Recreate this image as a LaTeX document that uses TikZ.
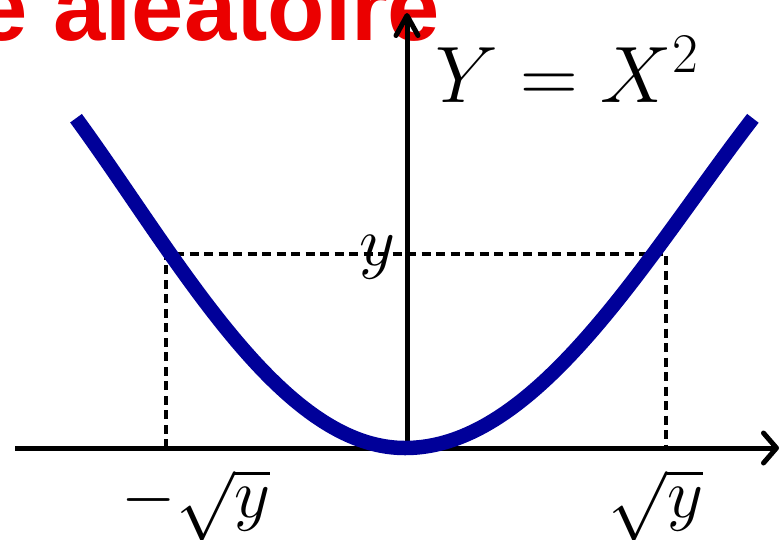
\RequirePackage{fix-cm}
\documentclass[tikz,border=0pt]{standalone}
\usepackage{fontspec}
\newfontfamily\titlefont{Liberation Sans}
\usetikzlibrary{arrows.meta}
\definecolor{curveblue}{RGB}{0,0,153}
\definecolor{titlered}{RGB}{235,0,0}
\begin{document}
\begin{tikzpicture}[x=1pt,y=-1pt,
  axis/.style={line width=5pt},
  guide/.style={line width=3.3pt, dash pattern=on 9pt off 5.5pt},
  curve/.style={line width=14.5pt, draw=curveblue},
  titletext/.style={anchor=base west, inner sep=0pt, font=\titlefont\bfseries\fontsize{94}{94}\selectfont},
  lbl/.style={inner sep=0pt, anchor=base, font=\fontsize{70}{70}\selectfont}]
\useasboundingbox (0,0) rectangle (781,539);
\clip (0,0) rectangle (781,539);
% title (cut off at the top)
\node[titletext, text=titlered] (title) at (-25,40) {e aléatoire};
% dashed guides
\coordinate (bl) at (166,448);
\coordinate (dl) at (166,254);
\coordinate (dr) at (666,254);
\coordinate (br) at (666,448);
\draw[guide] (bl) -- (dl) -- (dr) -- (br);
% axes
\coordinate (xs) at (15,448);
\coordinate (xe) at (779,448);
\coordinate (ys) at (407,448);
\coordinate (ye) at (407,13);
\draw[axis, -{Straight Barb[length=13pt,width=30pt,round]}] (xs) -- (xe);
\draw[axis, -{Straight Barb[length=20pt,width=22pt,round]}] (ys) -- (ye);
% curve
\draw[curve] plot[domain=-3.29:0, samples=80, variable=\t]
   ({405+100*\t},{448-40.16*\t*\t+0.8955*\t*\t*\t*\t})
   -- plot[domain=0:3.48, samples=80, variable=\t]
   ({405+100*\t},{448-35.90*\t*\t+0.7156*\t*\t*\t*\t});
% labels
\node[lbl, font=\fontsize{80}{80}\selectfont] (eq) at (567,102) {$Y = X^2$};
\node[lbl] (ylab) at (377,265) {$y$};
\node[lbl] (mlab) at (196,517) {$-\sqrt{y}$};
\node[lbl] (plab) at (656,517) {$\sqrt{y}$};
\end{tikzpicture}
\end{document}
